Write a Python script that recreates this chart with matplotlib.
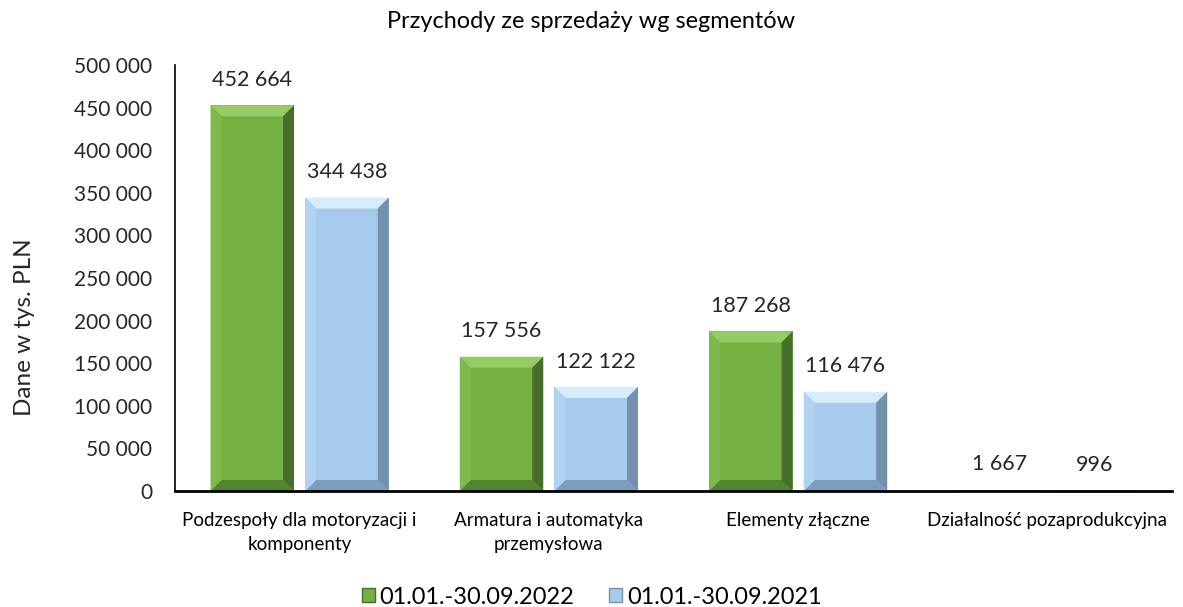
import matplotlib.pyplot as plt
from matplotlib.patches import Polygon, Patch
import numpy as np

plt.rcParams['font.family'] = ['Lato', 'DejaVu Sans']

categories = ['Podzespoły dla motoryzacji i\nkomponenty',
              'Armatura i automatyka\nprzemysłowa',
              'Elementy złączne',
              'Działalność pozaprodukcyjna']
series_names = ['01.01.-30.09.2022', '01.01.-30.09.2021']
values_2022 = [452664, 157556, 187268, 1667]
values_2021 = [344438, 122122, 116476, 996]
yticks = list(range(0, 500001, 50000))


def fmt(v):
    return f"{v:,}".replace(",", " ")


# kolory: front, góra, dół, lewy bok, prawy bok
green = dict(face='#76b043', top='#95cc63', bottom='#55842f', left='#7fb84c', right='#466f29')
blue = dict(face='#a7caed', top='#d6ecfb', bottom='#7e9cbc', left='#b2d2f1', right='#7390ad')

fig = plt.figure(figsize=(11.83, 6.07), dpi=100)
ax = fig.add_axes([175 / 1183, 1 - 491 / 607, (1172 - 175) / 1183, (491 - 65) / 607])

x = np.arange(len(categories))
width = 0.335
off = 0.19

bars1 = ax.bar(x - off, values_2022, width, color=green['face'], label=series_names[0])
bars2 = ax.bar(x + off, values_2021, width, color=blue['face'], label=series_names[1])

ax.set_xlim(-0.5, len(categories) - 0.5)
ax.set_ylim(0, 500000)

# efekt fazowania
axw = (1172 - 175)
axh = (491 - 65)
px_x = len(categories) / axw
px_y = 500000 / axh
bev = 11


def bevel(bars, c):
    for r in bars:
        x0, y0, w, h = r.get_x(), r.get_y(), r.get_width(), r.get_height()
        hp = h / px_y
        if hp < 6:
            continue
        b = min(bev, hp / 2)
        bx, by = b * px_x, b * px_y
        x1, y1 = x0 + w, y0 + h
        polys = [
            ([(x0, y1), (x1, y1), (x1 - bx, y1 - by), (x0 + bx, y1 - by)], c['top']),
            ([(x0, y0), (x1, y0), (x1 - bx, y0 + by), (x0 + bx, y0 + by)], c['bottom']),
            ([(x0, y0), (x0, y1), (x0 + bx, y1 - by), (x0 + bx, y0 + by)], c['left']),
            ([(x1, y0), (x1, y1), (x1 - bx, y1 - by), (x1 - bx, y0 + by)], c['right']),
        ]
        for pts, col in polys:
            ax.add_patch(Polygon(pts, closed=True, facecolor=col, edgecolor='none'))


bevel(bars1, green)
bevel(bars2, blue)

for bars in (bars1, bars2):
    for r in bars:
        ax.annotate(fmt(int(r.get_height())), (r.get_x() + r.get_width() / 2, r.get_height()),
                    xytext=(0, 11), textcoords='offset points', ha='center', va='bottom',
                    fontsize=15.5, color='#262626')

ax.set_yticks(yticks)
ax.set_yticklabels([fmt(v) for v in yticks], fontsize=15, color='#262626')
ax.set_xticks(x)
ax.set_xticklabels(categories, fontsize=13.5, color='#000000', linespacing=1.5)
ax.tick_params(axis='both', length=0)
ax.tick_params(axis='y', pad=16.5)
ax.tick_params(axis='x', pad=15)

for s in ('top', 'right'):
    ax.spines[s].set_visible(False)
ax.spines['left'].set_color('black')
ax.spines['bottom'].set_color('black')
ax.spines['left'].set_linewidth(1.2)
ax.spines['bottom'].set_linewidth(2)

fig.text(25 / 1183, 1 - 327 / 607, 'Dane w tys. PLN', rotation=90, ha='center', va='center',
         fontsize=17.5, color='#262626')
fig.text(0.5, 1 - 21 / 607, 'Przychody ze sprzedaży wg segmentów', ha='center', va='center',
         fontsize=16.9, color='#000000')

handles = [Patch(facecolor=green['face'], edgecolor=green['right']),
           Patch(facecolor=blue['face'], edgecolor=blue['right'])]
fig.legend(handles, series_names, loc='center', bbox_to_anchor=(0.5, 1 - 597 / 607), ncol=2,
           frameon=False, fontsize=16.9, handlelength=0.55, handleheight=0.55, handletextpad=0.2,
           columnspacing=1.5)

fig.savefig('out.png', dpi=100)
